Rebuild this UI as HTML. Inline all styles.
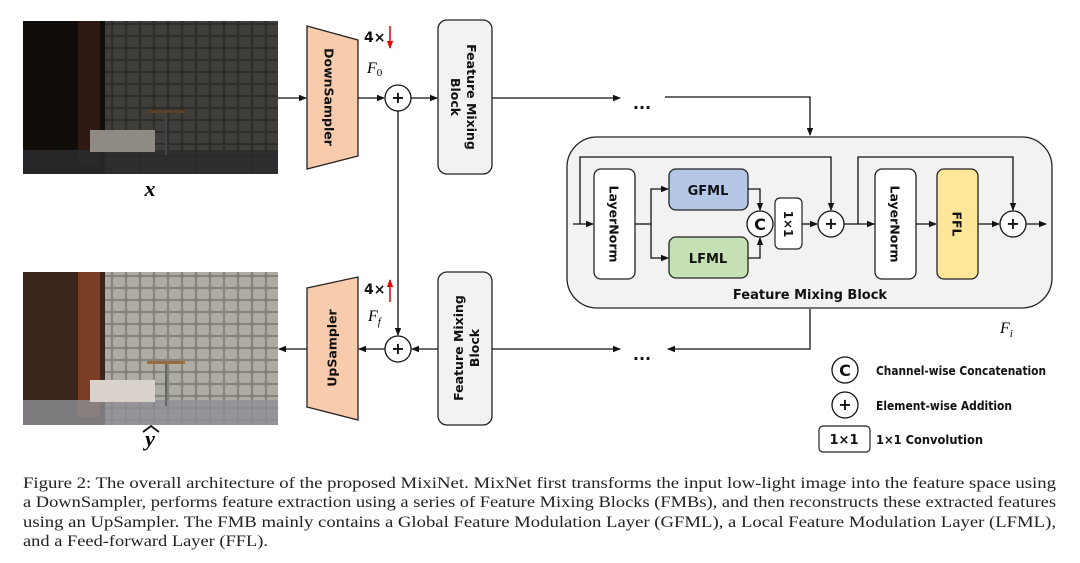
<!DOCTYPE html>
<html><head><meta charset="utf-8"><style>
html,body{margin:0;padding:0;background:#fff;}
svg{display:block;}
.b{font-family:"DejaVu Sans","Liberation Sans",sans-serif;font-weight:bold;fill:#111;}
.cap{font-family:"Liberation Serif",serif;font-size:15.5px;fill:#222;}
</style></head><body>
<svg width="1080" height="563" viewBox="0 0 1080 563" xmlns="http://www.w3.org/2000/svg">
<defs>
<marker id="a" markerWidth="8" markerHeight="8" refX="7" refY="4" orient="auto" markerUnits="userSpaceOnUse"><path d="M0,0.8 L8,4 L0,7.2z" fill="#111"/></marker>
<marker id="r" markerWidth="8" markerHeight="8" refX="7" refY="4" orient="auto" markerUnits="userSpaceOnUse"><path d="M0,0.8 L8,4 L0,7.2z" fill="#e00"/></marker>
<pattern id="st" width="14" height="12" patternUnits="userSpaceOnUse">
<rect width="14" height="12" fill="#2e2d2b"/><rect x="1" y="1" width="12" height="10" rx="2" fill="#3f3e3a"/></pattern>
<pattern id="st2" width="14" height="12" patternUnits="userSpaceOnUse">
<rect width="14" height="12" fill="#85837d"/><rect x="1" y="1" width="12" height="10" rx="2" fill="#aeaba3"/></pattern>
</defs>
<!-- top image -->
<rect x="23" y="21" width="255" height="153" fill="url(#st)"/>
<rect x="23" y="21" width="82" height="153" fill="#100c0a"/>
<rect x="78" y="21" width="22" height="145" fill="#2e1a13"/>
<rect x="23" y="150" width="255" height="24" fill="#2a2b2e" opacity="0.85"/>
<rect x="90" y="130" width="65" height="22" fill="#8f8a84"/>
<rect x="147" y="110" width="38" height="3" fill="#5b3f24"/>
<rect x="165" y="113" width="2" height="42" fill="#444"/>
<!-- bottom image -->
<rect x="23" y="272" width="255" height="153" fill="url(#st2)"/>
<rect x="23" y="272" width="82" height="153" fill="#3b2419"/>
<rect x="78" y="272" width="22" height="145" fill="#7a3e26"/>
<rect x="23" y="400" width="255" height="25" fill="#8e9096" opacity="0.8"/>
<rect x="90" y="380" width="65" height="22" fill="#d8d2ca"/>
<rect x="147" y="361" width="38" height="3" fill="#9a6a3a"/>
<rect x="165" y="364" width="2" height="42" fill="#666"/>
<text x="150" y="196" font-family="Liberation Serif,serif" font-style="italic" font-weight="bold" font-size="22" text-anchor="middle">x</text>
<text x="150" y="446" font-family="Liberation Serif,serif" font-style="italic" font-weight="bold" font-size="22" text-anchor="middle">y</text>
<path d="M143,432 L151,426 L159,432" fill="none" stroke="#111" stroke-width="1.8"/>
<!-- samplers -->
<polygon points="307,26 358,40 358,156 307,169" fill="#f8cbad" stroke="#222" stroke-width="1.3"/>
<text class="b" font-size="12.5" transform="translate(329,97) rotate(90)" text-anchor="middle" dominant-baseline="central">DownSampler</text>
<polygon points="307,288 358,277 358,420 307,407" fill="#f8cbad" stroke="#222" stroke-width="1.3"/>
<text class="b" font-size="12.5" transform="translate(332,348) rotate(-90)" text-anchor="middle" dominant-baseline="central">UpSampler</text>
<!-- 4x labels -->
<text class="b" x="364" y="42" font-size="14">4×</text>
<line x1="390" y1="26" x2="390" y2="48" stroke="#e00" stroke-width="1.5" marker-end="url(#r)"/>
<text x="367" y="73" font-family="Liberation Serif,serif" font-style="italic" font-size="16">F<tspan font-size="11" dy="3" font-style="normal">0</tspan></text>
<text class="b" x="364" y="294" font-size="14">4×</text>
<line x1="390" y1="302" x2="390" y2="280" stroke="#e00" stroke-width="1.5" marker-end="url(#r)"/>
<text x="368" y="321" font-family="Liberation Serif,serif" font-style="italic" font-size="16">F<tspan font-size="11" dy="4">f</tspan></text>
<!-- FMB boxes -->
<rect x="438" y="20" width="54" height="154" rx="9" fill="#f2f2f2" stroke="#222" stroke-width="1.3"/>
<text class="b" font-size="12.5" transform="translate(465,97) rotate(90)" text-anchor="middle"><tspan x="0" dy="-2">Feature Mixing</tspan><tspan x="0" dy="16">Block</tspan></text>
<rect x="438" y="272" width="54" height="153" rx="9" fill="#f2f2f2" stroke="#222" stroke-width="1.3"/>
<text class="b" font-size="12.5" transform="translate(465,348) rotate(-90)" text-anchor="middle"><tspan x="0" dy="-2">Feature Mixing</tspan><tspan x="0" dy="16">Block</tspan></text>
<!-- plus circles -->
<g fill="#fff" stroke="#111" stroke-width="1.3">
<circle cx="398" cy="98" r="13"/><circle cx="398" cy="349" r="13"/>
</g>
<text class="b" x="398" y="103" font-size="16" text-anchor="middle">+</text>
<text class="b" x="398" y="354" font-size="16" text-anchor="middle">+</text>
<!-- top flow -->
<g stroke="#111" stroke-width="1.3" fill="none">
<line x1="278" y1="98" x2="306" y2="98" marker-end="url(#a)"/>
<line x1="358" y1="98" x2="384" y2="98" marker-end="url(#a)"/>
<line x1="411" y1="98" x2="437" y2="98" marker-end="url(#a)"/>
<line x1="492" y1="98" x2="620" y2="98" marker-end="url(#a)"/>
<polyline points="665,97 810,97 810,135" marker-end="url(#a)"/>
<line x1="398" y1="111" x2="398" y2="335" marker-end="url(#a)"/>
<polyline points="810,309 810,349 668,349" marker-end="url(#a)"/>
<line x1="492" y1="349" x2="620" y2="349" marker-end="url(#a)"/>
<line x1="438" y1="349" x2="412" y2="349" marker-end="url(#a)"/>
<line x1="385" y1="349" x2="359" y2="349" marker-end="url(#a)"/>
<line x1="307" y1="349" x2="279" y2="349" marker-end="url(#a)"/>
</g>
<text class="b" x="642" y="109" font-size="16" text-anchor="middle">...</text>
<text class="b" x="642" y="360" font-size="16" text-anchor="middle">...</text>
<!-- big block -->
<rect x="567" y="137" width="485" height="171" rx="30" fill="#f2f2f2" stroke="#222" stroke-width="1.3"/>
<rect x="594" y="169" width="41" height="110" rx="7" fill="#fff" stroke="#222" stroke-width="1.3"/>
<text class="b" font-size="12.5" transform="translate(614,224) rotate(90)" text-anchor="middle" dominant-baseline="central">LayerNorm</text>
<rect x="669" y="169" width="79" height="41" rx="7" fill="#b4c7e7" stroke="#222" stroke-width="1.3"/>
<text class="b" x="708" y="195" font-size="13" text-anchor="middle">GFML</text>
<rect x="669" y="237" width="79" height="41" rx="7" fill="#c5e0b4" stroke="#222" stroke-width="1.3"/>
<text class="b" x="708" y="263" font-size="13" text-anchor="middle">LFML</text>
<rect x="775" y="198" width="27" height="51" rx="5" fill="#fff" stroke="#222" stroke-width="1.2"/>
<text class="b" font-size="12" transform="translate(788,224) rotate(90)" text-anchor="middle" dominant-baseline="central">1×1</text>
<rect x="875" y="169" width="41" height="110" rx="7" fill="#fff" stroke="#222" stroke-width="1.3"/>
<text class="b" font-size="12.5" transform="translate(895,224) rotate(90)" text-anchor="middle" dominant-baseline="central">LayerNorm</text>
<rect x="937" y="169" width="41" height="110" rx="7" fill="#ffe699" stroke="#222" stroke-width="1.3"/>
<text class="b" font-size="12.5" transform="translate(957,224) rotate(90)" text-anchor="middle" dominant-baseline="central">FFL</text>
<g stroke="#111" stroke-width="1.3" fill="none">
<line x1="573" y1="224" x2="593" y2="224" marker-end="url(#a)"/>
<polyline points="580,224 580,157 831,157 831,210" marker-end="url(#a)"/>
<line x1="635" y1="224" x2="651" y2="224"/>
<polyline points="651,224 651,189 668,189" marker-end="url(#a)"/>
<polyline points="651,224 651,258 668,258" marker-end="url(#a)"/>
<polyline points="748,189 760,189 760,210" marker-end="url(#a)"/>
<polyline points="748,258 760,258 760,238" marker-end="url(#a)"/>
<line x1="802" y1="224" x2="817" y2="224" marker-end="url(#a)"/>
<line x1="844" y1="224" x2="874" y2="224" marker-end="url(#a)"/>
<polyline points="858,224 858,157 1013,157 1013,210" marker-end="url(#a)"/>
<line x1="916" y1="224" x2="936" y2="224" marker-end="url(#a)"/>
<line x1="978" y1="224" x2="999" y2="224" marker-end="url(#a)"/>
<line x1="1026" y1="224" x2="1046" y2="224" marker-end="url(#a)"/>
</g>
<g fill="#fff" stroke="#111" stroke-width="1.3">
<circle cx="760" cy="224" r="13"/><circle cx="831" cy="224" r="13"/><circle cx="1013" cy="224" r="13"/>
</g>
<text class="b" x="760" y="230" font-size="16" text-anchor="middle">C</text>
<text class="b" x="831" y="229" font-size="16" text-anchor="middle">+</text>
<text class="b" x="1013" y="229" font-size="16" text-anchor="middle">+</text>
<text class="b" x="810" y="299" font-size="13" text-anchor="middle">Feature Mixing Block</text>
<text x="1000" y="333" font-family="Liberation Serif,serif" font-style="italic" font-size="16">F<tspan font-size="11" dy="4">i</tspan></text>
<!-- legend -->
<circle cx="845" cy="370" r="13" fill="#fff" stroke="#111" stroke-width="1.3"/>
<text class="b" x="845" y="376" font-size="16" text-anchor="middle">C</text>
<text class="b" x="876" y="375" font-size="12" textLength="170" lengthAdjust="spacingAndGlyphs">Channel-wise Concatenation</text>
<circle cx="845" cy="405" r="13" fill="#fff" stroke="#111" stroke-width="1.3"/>
<text class="b" x="845" y="410" font-size="16" text-anchor="middle">+</text>
<text class="b" x="876" y="410" font-size="12" textLength="136" lengthAdjust="spacingAndGlyphs">Element-wise Addition</text>
<rect x="819" y="426" width="51" height="26" rx="4" fill="#fff" stroke="#222" stroke-width="1.2"/>
<text class="b" x="844" y="444" font-size="13" text-anchor="middle">1×1</text>
<text class="b" x="876" y="444" font-size="12" textLength="107" lengthAdjust="spacingAndGlyphs">1×1 Convolution</text>
<!-- caption -->
<text class="cap" x="23" y="488" textLength="1033" lengthAdjust="spacingAndGlyphs">Figure 2: The overall architecture of the proposed MixiNet. MixNet first transforms the input low-light image into the feature space using</text>
<text class="cap" x="23" y="507" textLength="1033" lengthAdjust="spacingAndGlyphs">a DownSampler, performs feature extraction using a series of Feature Mixing Blocks (FMBs), and then reconstructs these extracted features</text>
<text class="cap" x="23" y="527" textLength="1033" lengthAdjust="spacingAndGlyphs">using an UpSampler. The FMB mainly contains a Global Feature Modulation Layer (GFML), a Local Feature Modulation Layer (LFML),</text>
<text class="cap" x="23" y="546" textLength="245" lengthAdjust="spacingAndGlyphs">and a Feed-forward Layer (FFL).</text>
</svg>
</body></html>
